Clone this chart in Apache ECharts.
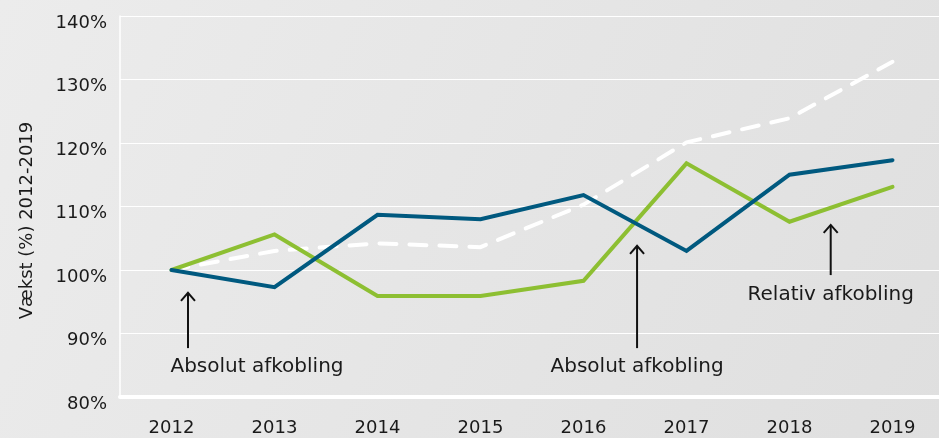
<!DOCTYPE html>
<html>
<head>
<meta charset="utf-8">
<script src="https://cdn.jsdelivr.net/npm/echarts@6/dist/echarts.min.js"></script>
<style>
  html, body { margin: 0; padding: 0; }
  #chart { width: 939px; height: 438px; }
</style>
</head>
<body>
<div id="chart"></div>
<script>
const years = ["2012", "2013", "2014", "2015", "2016", "2017", "2018", "2019"]
const blueSeries = [100, 97.3, 108.7, 108.0, 111.8, 103.0, 115.0, 117.3]
const greenSeries = [100, 105.6, 95.9, 95.9, 98.3, 116.8, 107.6, 113.1]
const dashedSeries = [100, 103.0, 104.2, 103.6, 110.3, 120.1, 123.9, 132.8]

// annotations: [arrow position, arrow top value, arrow bottom value, text position, text value, text]
const notes = [
  [0.16, 96.4, 87.7, 0.83, 84.7, "Absolut afkobling"],
  [4.52, 103.8, 87.7, 4.52, 84.7, "Absolut afkobling"],
  [6.40, 107.1, 99.2, 6.40, 96.1, "Relativ afkobling"],
]

const font = "'DejaVu Sans', sans-serif"
const myChart = echarts.init(document.getElementById("chart"))

const option = {
  backgroundColor: new echarts.graphic.LinearGradient(0, 0, 1, 1, [
    { offset: 0, color: "#ececec" },
    { offset: 1, color: "#dfdfdf" },
  ]),
  animation: false,
  grid: { left: 120, width: 824, top: 16, bottom: 41, outerBoundsMode: "none" },
  xAxis: {
    type: "category",
    data: years,
    boundaryGap: true,
    axisLine: { lineStyle: { color: "#ffffff", width: 4 } },
    axisTick: { show: false },
    axisLabel: { color: "#1a1a1a", fontSize: 18, fontFamily: font, margin: 22 },
  },
  yAxis: {
    type: "value",
    min: 80,
    max: 140,
    interval: 10,
    name: "Vækst (%) 2012-2019",
    nameLocation: "middle",
    nameGap: 84,
    nameRotate: 90,
    nameTextStyle: { color: "#1a1a1a", fontSize: 18, fontFamily: font, padding: [0, 0, 0, -28] },
    axisLine: { show: true, lineStyle: { color: "#ffffff", width: 1.5 } },
    axisTick: { show: false },
    splitLine: { lineStyle: { color: "#ffffff", width: 1.2 } },
    axisLabel: {
      color: "#1a1a1a",
      fontSize: 18,
      fontFamily: font,
      margin: 13,
      verticalAlign: "top",
      lineHeight: 14,
      formatter: function (v) {
        return v + "%"
      },
    },
  },
  series: [
    {
      type: "line",
      data: dashedSeries,
      showSymbol: false,
      lineStyle: { color: "#ffffff", width: 4, type: [17, 13], cap: "round", join: "round" },
      z: 2,
    },
    {
      type: "line",
      data: greenSeries,
      showSymbol: false,
      lineStyle: { color: "#8dbf32", width: 4, cap: "round", join: "miter" },
      z: 3,
    },
    {
      type: "line",
      data: blueSeries,
      showSymbol: false,
      lineStyle: { color: "#00597f", width: 4, cap: "round", join: "miter" },
      z: 4,
    },
  ],
}

myChart.setOption(option)

// place arrows and labels from data coordinates
function px(pos, val) {
  const i = Math.floor(pos)
  const a = myChart.convertToPixel({ gridIndex: 0 }, [i, val])
  const b = myChart.convertToPixel({ gridIndex: 0 }, [i + 1, val])
  return [a[0] + (b[0] - a[0]) * (pos - i), a[1]]
}

const graphics = []
notes.forEach(function (n) {
  const top = px(n[0], n[1])
  const bottom = px(n[0], n[2])
  const txt = px(n[3], n[4])
  graphics.push({
    type: "line",
    shape: { x1: top[0], y1: top[1], x2: bottom[0], y2: bottom[1] },
    style: { stroke: "#111", lineWidth: 2 },
    z: 10,
  })
  graphics.push({
    type: "polyline",
    shape: { points: [[top[0] - 7, top[1] + 8], [top[0], top[1]], [top[0] + 7, top[1] + 8]] },
    style: { stroke: "#111", lineWidth: 2, fill: null },
    z: 10,
  })
  graphics.push({
    type: "text",
    x: txt[0],
    y: txt[1],
    style: {
      text: n[5],
      fill: "#1a1a1a",
      font: "20px " + font,
      align: "center",
      verticalAlign: "middle",
    },
    z: 10,
  })
})
myChart.setOption({ graphic: graphics })
</script>
</body>
</html>
